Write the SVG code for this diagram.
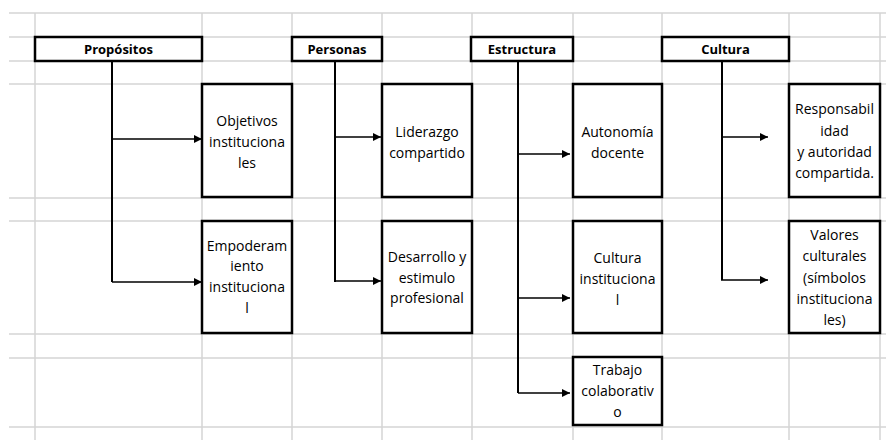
<svg xmlns="http://www.w3.org/2000/svg" width="886" height="440" viewBox="0 0 886 440">
<style>
.grid line{stroke:#d4d4d4;stroke-width:1.5}
.box{fill:#fff;stroke:#000;stroke-width:2.5}
.h{font-family:"Open Sans","Liberation Sans",sans-serif;font-size:13px;font-weight:bold;text-anchor:middle;fill:#000}
.t{font-family:"Open Sans","Liberation Sans",sans-serif;font-size:14px;text-anchor:middle;fill:#000}
.v{fill:none;stroke:#000;stroke-width:2}
.a{fill:none;stroke:#000;stroke-width:1.4;marker-end:url(#arr)}
</style>
<defs>
<marker id="arr" markerUnits="userSpaceOnUse" markerWidth="9" markerHeight="9" refX="8" refY="4" orient="auto">
<path d="M0,0 L8,4 L0,8 z" fill="#000"/>
</marker>
</defs>
<rect width="886" height="440" fill="#fff"/>
<g class="grid">
<line x1="9" y1="13" x2="886" y2="13"/>
<line x1="9" y1="37" x2="886" y2="37"/>
<line x1="9" y1="61" x2="886" y2="61"/>
<line x1="9" y1="84" x2="886" y2="84"/>
<line x1="9" y1="198" x2="886" y2="198"/>
<line x1="9" y1="221" x2="886" y2="221"/>
<line x1="9" y1="334" x2="886" y2="334"/>
<line x1="9" y1="358" x2="886" y2="358"/>
<line x1="9" y1="427" x2="886" y2="427"/>
<line x1="35" y1="13" x2="35" y2="440"/>
<line x1="202" y1="13" x2="202" y2="440"/>
<line x1="292" y1="13" x2="292" y2="440"/>
<line x1="382" y1="13" x2="382" y2="440"/>
<line x1="472" y1="13" x2="472" y2="440"/>
<line x1="573" y1="13" x2="573" y2="440"/>
<line x1="662" y1="13" x2="662" y2="440"/>
<line x1="789" y1="13" x2="789" y2="440"/>
<line x1="880" y1="13" x2="880" y2="440"/>
</g>
<g id="connectors">
<path class="v" d="M112,61 V282"/>
<path class="a" d="M112,139 H202"/>
<path class="a" d="M112,282 H202"/>
<path class="v" d="M335,61 V282"/>
<path class="a" d="M335,137 H381"/>
<path class="a" d="M335,281 H381"/>
<path class="v" d="M518,61 V393"/>
<path class="a" d="M518,154 H570"/>
<path class="a" d="M518,298 H570"/>
<path class="a" d="M518,393 H570"/>
<path class="v" d="M722,61 V280"/>
<path class="a" d="M721,137 H768"/>
<path class="a" d="M721,280 H768"/>
</g>
<g id="propositos"><rect class="box" x="35" y="37" width="167" height="24"/><text class="h" x="118.5" y="54">Propósitos</text></g>
<g id="personas"><rect class="box" x="292" y="37" width="90" height="24"/><text class="h" x="337" y="54">Personas</text></g>
<g id="estructura"><rect class="box" x="471" y="37" width="102" height="24"/><text class="h" x="522" y="54">Estructura</text></g>
<g id="cultura"><rect class="box" x="662" y="37" width="127" height="24"/><text class="h" x="725.5" y="54">Cultura</text></g>
<g id="objetivos"><rect class="box" x="202" y="84" width="90" height="113"/>
<text class="t" x="247" y="126">Objetivos</text><text class="t" x="247" y="147">instituciona</text><text class="t" x="247" y="168">les</text></g>
<g id="liderazgo"><rect class="box" x="382" y="84" width="90" height="113"/>
<text class="t" x="427" y="137">Liderazgo</text><text class="t" x="427" y="158">compartido</text></g>
<g id="autonomia"><rect class="box" x="573" y="84" width="89" height="113"/>
<text class="t" x="617.5" y="137">Autonomía</text><text class="t" x="617.5" y="158">docente</text></g>
<g id="responsabilidad"><rect class="box" x="789" y="84" width="91" height="113"/>
<text class="t" x="834.5" y="114">Responsabil</text><text class="t" x="834.5" y="136">idad</text><text class="t" x="834.5" y="157">y autoridad</text><text class="t" x="834.5" y="178">compartida.</text></g>
<g id="empoderamiento"><rect class="box" x="202" y="221" width="90" height="112"/>
<text class="t" x="247" y="251">Empoderam</text><text class="t" x="247" y="271">iento</text><text class="t" x="247" y="292">instituciona</text><text class="t" x="247" y="313">l</text></g>
<g id="desarrollo"><rect class="box" x="382" y="221" width="90" height="112"/>
<text class="t" x="427" y="262">Desarrollo y</text><text class="t" x="427" y="283">estimulo</text><text class="t" x="427" y="303">profesional</text></g>
<g id="cultura-inst"><rect class="box" x="573" y="221" width="89" height="112"/>
<text class="t" x="617.5" y="263">Cultura</text><text class="t" x="617.5" y="284">instituciona</text><text class="t" x="617.5" y="305">l</text></g>
<g id="valores"><rect class="box" x="789" y="221" width="91" height="112"/>
<text class="t" x="834.5" y="240">Valores</text><text class="t" x="834.5" y="261">culturales</text><text class="t" x="834.5" y="283">(símbolos</text><text class="t" x="834.5" y="304">instituciona</text><text class="t" x="834.5" y="325">les)</text></g>
<g id="trabajo"><rect class="box" x="573" y="357" width="89" height="68"/>
<text class="t" x="617.5" y="375">Trabajo</text><text class="t" x="617.5" y="396">colaborativ</text><text class="t" x="617.5" y="417">o</text></g>
</svg>
